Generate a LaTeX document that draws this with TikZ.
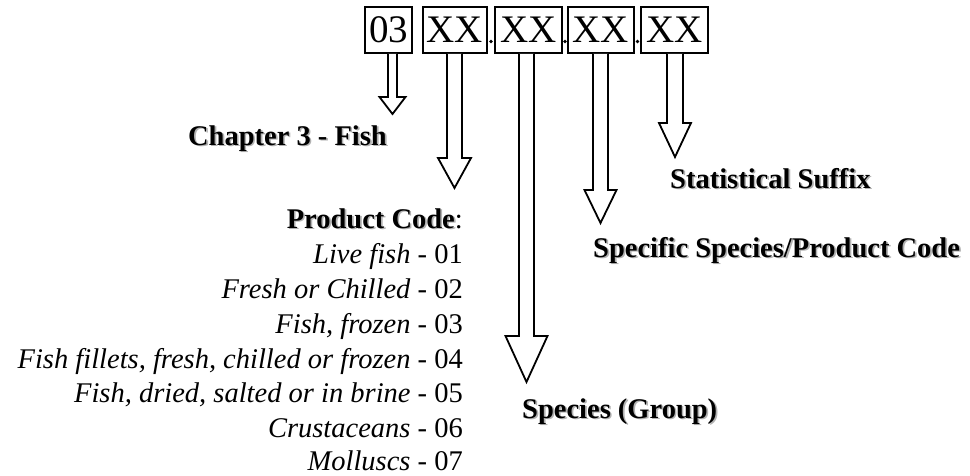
\documentclass[tikz,border=0pt]{standalone}
\usepackage{fontspec}
\setmainfont{Liberation Serif}
\newcommand\shd[1]{\makebox[0pt][l]{\kern1.7pt\raisebox{-1.7pt}{\textcolor{black!30}{#1}}}#1}
\tikzset{
  codebox/.style={draw=black, line width=1.8pt, inner sep=0pt, minimum height=46pt,
    font=\fontsize{39}{39}\selectfont},
  codedot/.style={circle, fill=black, inner sep=0pt, minimum size=3.6pt},
  lbl/.style={inner sep=0pt, font=\fontsize{28.5}{34}\selectfont\bfseries},
  item/.style={inner sep=0pt, anchor=base east, font=\fontsize{28.5}{34}\selectfont},
  blk/.style={draw=black, line width=1.8pt, fill=white, line join=miter}
}
% #1 box name, #2 x centre, #3 head start y, #4 tip y, #5 shaft half width, #6 head half width, #7 tip name
\newcommand\blkarrow[7]{%
  \coordinate (#7) at (#2,#4);
  \draw[blk] ({#2-#5},0 |- #1.south) -- ({#2-#5},#3) -- ({#2-#6},#3) -- (#7)
    -- ({#2+#6},#3) -- ({#2+#5},#3) -- ({#2+#5},0 |- #1.south);
}
\begin{document}
\begin{tikzpicture}[x=1pt, y=-1pt]
\useasboundingbox (0,0) rectangle (970,475);

% code boxes
\node[codebox, minimum width=47pt] (b1) at (388.5,30) {03};
\node[codebox, minimum width=64pt] (b2) at (455,30) {XX};
\node[codebox, minimum width=67pt] (b3) at (528.5,30) {XX};
\node[codebox, minimum width=66pt] (b4) at (601,30) {XX};
\node[codebox, minimum width=67pt] (b5) at (674.5,30) {XX};
\node[codedot] (d1) at (491,41.5) {};
\node[codedot] (d2) at (565,41.5) {};
\node[codedot] (d3) at (637.5,41.5) {};

% block arrows
\blkarrow{b1}{392.5}{97}{114}{4.5}{13}{t1}
\blkarrow{b2}{454.5}{158}{188}{7.5}{16.5}{t2}
\blkarrow{b3}{526.5}{336}{382}{7.5}{21}{t3}
\blkarrow{b4}{600.5}{190}{223}{7.5}{16}{t4}
\blkarrow{b5}{675}{123}{157}{8}{16}{t5}

% labels
\node[lbl, anchor=base east] (chap) at (387,145) {\shd{Chapter 3 - Fish}};
\node[lbl, anchor=base west] (stat) at (670,188) {\shd{Statistical Suffix}};
\node[lbl, anchor=base west] (spec) at (593,257) {\shd{Specific Species/Product Code}};
\node[lbl, anchor=base west] (grp) at (522,418) {\shd{Species (Group)}};
\node[lbl, anchor=base east] (prod) at (463,228) {\shd{Product Code}\mdseries:};

% product list
\node[item] (i1) at (463,263) {\textit{Live fish} - 01};
\node[item] (i2) at (463,298) {\textit{Fresh or Chilled} - 02};
\node[item] (i3) at (463,333) {\textit{Fish, frozen} - 03};
\node[item] (i4) at (463,368) {\textit{Fish fillets, fresh, chilled or frozen} - 04};
\node[item] (i5) at (463,402.5) {\textit{Fish, dried, salted or in brine} - 05};
\node[item] (i6) at (463,437) {\textit{Crustaceans} - 06};
\node[item] (i7) at (463,470.5) {\textit{Molluscs} - 07};
\end{tikzpicture}
\end{document}
